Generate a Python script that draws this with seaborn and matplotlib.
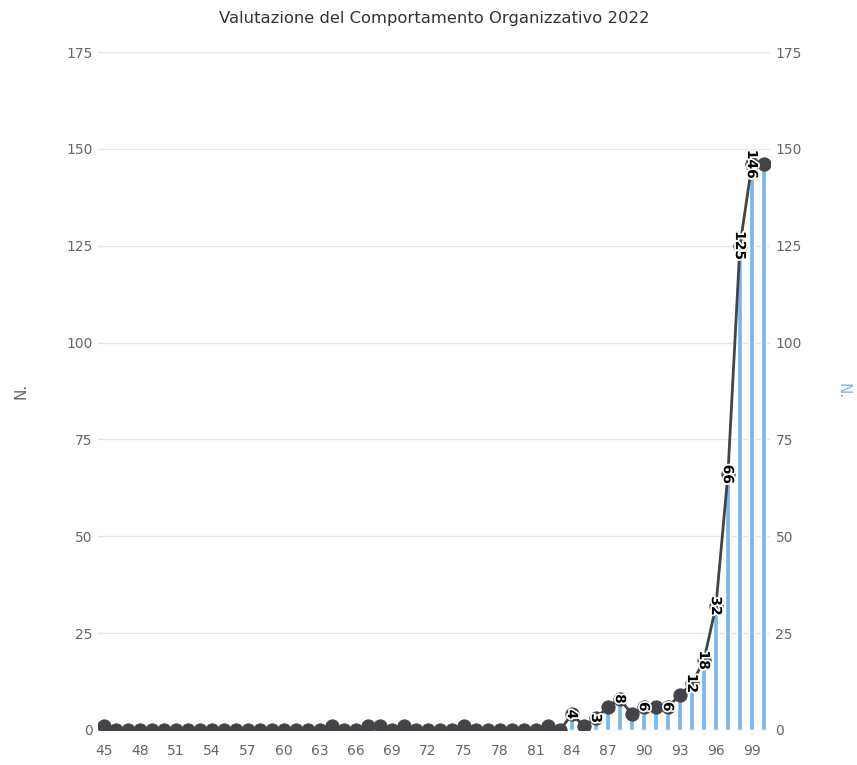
import matplotlib

matplotlib.use("Agg")

import matplotlib.pyplot as plt
import matplotlib.patheffects as pe
import pandas as pd
import seaborn as sns

# scores 45..100 and the number of people for each score
scores = list(range(45, 101))
counts = [
    1, 0, 0, 0, 0, 0, 0, 0, 0, 0,   # 45-54
    0, 0, 0, 0, 0, 0, 0, 0, 0, 1,   # 55-64
    0, 0, 1, 1, 0, 1, 0, 0, 0, 0,   # 65-74
    1, 0, 0, 0, 0, 0, 0, 1, 0, 4,   # 75-84
    1, 3, 6, 8, 4, 6, 6, 6, 9, 12,  # 85-94
    18, 32, 66, 125, 146, 146,      # 95-100
]
# scores whose data label is shown in the chart
labelled_scores = [84, 86, 88, 90, 92, 94, 95, 96, 97, 98, 99]
x_ticks = list(range(45, 100, 3))
y_ticks = [0, 25, 50, 75, 100, 125, 150, 175]

title = "Valutazione del Comportamento Organizzativo 2022"
bar_color = "#7cb5ec"
line_color = "#434348"
text_color = "#666666"

df = pd.DataFrame({"score": scores, "count": counts})

sns.set_style("white")
plt.rcParams["font.family"] = ["DejaVu Sans"]

fig = plt.figure(figsize=(8.57, 7.65), dpi=100)
ax = fig.add_axes([0.1144, 0.0458, 0.784, 0.8862])

sns.barplot(data=df, x="score", y="count", native_scale=True, width=0.42,
            color=bar_color, saturation=1, ax=ax, zorder=2)
sns.lineplot(data=df, x="score", y="count", color=line_color, linewidth=2,
             marker="o", markersize=9.5, markeredgecolor=line_color, ax=ax, zorder=3)

for s, c in zip(scores, counts):
    if s in labelled_scores:
        ax.text(s, c, str(c), rotation=270, ha="center", va="center",
                fontsize=10, fontweight="bold", color="black", zorder=4,
                path_effects=[pe.withStroke(linewidth=2.5, foreground="white")])

ax.set_xlim(44.5, 100.5)
ax.set_ylim(0, 175)
ax.set_xticks(x_ticks)
ax.set_yticks(y_ticks)
ax.tick_params(axis="both", length=0, labelsize=10, labelcolor=text_color)
ax.tick_params(axis="x", pad=10)
ax.tick_params(axis="y", pad=4)
ax.yaxis.grid(True, color="#e6e6e6", linewidth=1)
ax.set_axisbelow(True)
for sp in ax.spines.values():
    sp.set_visible(False)
ax.set_xlabel("")
ax.set_ylabel("N.", color=text_color, fontsize=11, labelpad=27)
ax.set_title(title, color="#333333", fontsize=11.8, pad=21)

ax2 = ax.twinx()
ax2.set_ylim(0, 175)
ax2.set_yticks(y_ticks)
ax2.tick_params(axis="y", length=0, labelsize=10, labelcolor=text_color, pad=4)
for sp in ax2.spines.values():
    sp.set_visible(False)
ax2.set_ylabel("N.", color=bar_color, fontsize=11, labelpad=24, rotation=270, va="bottom")

fig.savefig("out.png", dpi=100)
